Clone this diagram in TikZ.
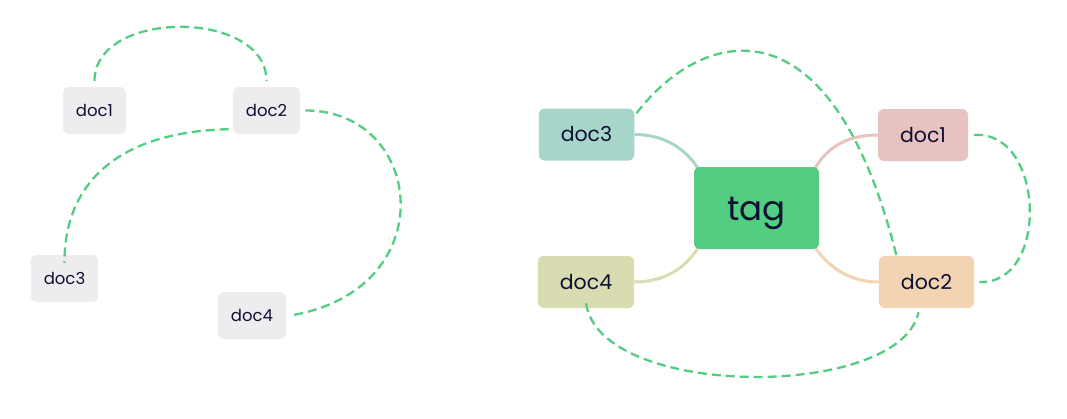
\documentclass[tikz,border=0pt]{standalone}
\usepackage{fontspec}
\setmainfont{Poppins}
\usepackage{tikz}
\usetikzlibrary{backgrounds}
\definecolor{encre}{HTML}{0D1032}
\definecolor{gris}{HTML}{EEECEF}
\definecolor{vert}{HTML}{52CD82}
\definecolor{sarcelle}{HTML}{A8D5CA}
\definecolor{olive}{HTML}{D9DCB1}
\definecolor{rose}{HTML}{E8C2C1}
\definecolor{peche}{HTML}{F2D3B2}

\tikzset{
  doc/.style={rounded corners=6pt, text=encre, inner sep=0pt},
  petit/.style={doc, fill=gris, minimum height=47pt, inner xsep=13pt, font=\fontsize{16.5}{16.5}\selectfont},
  grand/.style={doc, minimum height=52pt, inner xsep=22pt, font=\fontsize{20.5}{20.5}\selectfont},
  lien/.style={draw=vert, line width=2.3pt, dash pattern=on 9pt off 5pt},
  branche/.style={line width=3pt}
}

\begin{document}
\begin{tikzpicture}[x=1pt, y=-1pt]
  \useasboundingbox (0,0) rectangle (1067,418);

  % Gauche.
  \node[petit] at (94.5,110.5) (g1) {doc1};
  \node[petit] at (266.5,110.5) (g2) {doc2};
  \node[petit] at (64.5,278.5) (g3) {doc3};
  \node[petit] at (252,315.5) (g4) {doc4};

  \path[lien, shorten <=6pt, shorten >=6pt] (g1.north) .. controls +(0,-78) and +(0,-78) .. (g2.north);
  \path[lien] ([shift={(-4,-5)}]g2.south west) .. controls (110,132) and (64,190) .. ([yshift=-8]g3.north);
  \path[lien] ([xshift=5]g2.east) .. controls (425,110) and (445,290) .. ([xshift=4]g4.east);

  % Droite.
  \node[doc, fill=vert, minimum width=125pt, minimum height=82pt, text height=24pt, text depth=0pt, font=\fontsize{34}{34}\selectfont] at (756.5,208) (tag) {tag};
  \node[grand, fill=sarcelle] at (586.5,134.5) (d3) {doc3};
  \node[grand, fill=olive] at (586,282) (d4) {doc4};
  \node[grand, fill=rose] at (923,135) (d1) {doc1};
  \node[grand, fill=peche] at (926.5,282) (d2) {doc2};

  \begin{scope}[on background layer]
    \path[branche, draw=sarcelle] (d3.east) .. controls +(36,0) and (690,155) .. ([shift={(5,3)}]tag.north west);
    \path[branche, draw=olive] (d4.east) .. controls +(36,0) and (690,262) .. ([shift={(5,-3)}]tag.south west);
    \path[branche, draw=rose] (d1.west) .. controls +(-34,0) and (825,150) .. ([shift={(-5,3)}]tag.north east);
    \path[branche, draw=peche] (d2.west) .. controls +(-34,0) and (825,262) .. ([shift={(-5,-3)}]tag.south east);
  \end{scope}

  \path[lien] ([shift={(2,5)}]d3.north east) .. controls (700,30) and (830,-10) .. ([xshift=-30]d2.north);
  \path[lien] ([xshift=6]d1.east) .. controls (1045,130) and (1050,285) .. ([xshift=5]d2.east);
  \path[lien] ([yshift=5]d4.south) .. controls (600,400) and (900,400) .. ([shift={(-8,4)}]d2.south);
\end{tikzpicture}
\end{document}
